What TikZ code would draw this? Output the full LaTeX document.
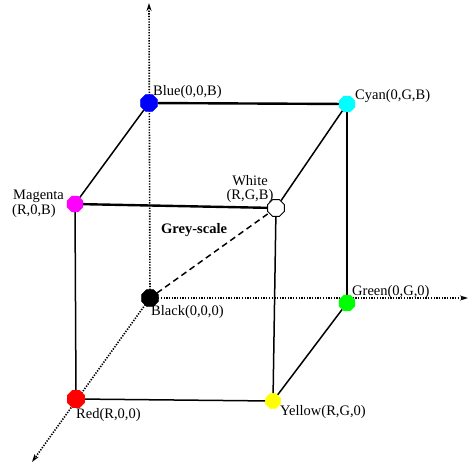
\documentclass[tikz,border=0pt]{standalone}
\usepackage{fontspec}
\setmainfont{Liberation Serif}
\usetikzlibrary{shapes.geometric,arrows.meta,backgrounds}
\definecolor{vblue}{RGB}{0,0,255}
\definecolor{vcyan}{RGB}{0,255,255}
\definecolor{vmagenta}{RGB}{255,0,255}
\definecolor{vgreen}{RGB}{0,255,0}
\definecolor{vred}{RGB}{255,0,0}
\definecolor{vyellow}{RGB}{255,255,0}
\begin{document}
\begin{tikzpicture}[x=1pt,y=-1pt,
  vtx/.style={regular polygon,regular polygon sides=8,minimum size=18pt,inner sep=0pt,draw=#1,fill=#1},
  lbl/.style={font=\fontsize{14.5}{16}\selectfont,inner sep=0pt,anchor=base west},
  thickedge/.style={line width=2.4pt},
  edge/.style={line width=1.5pt},
  axisline/.style={line width=1.6pt,dash pattern=on 1.3pt off 1.4pt,-{Stealth[length=8pt,width=5pt]}},
  greyline/.style={line width=1.5pt,dash pattern=on 6pt off 4pt}]
\useasboundingbox (0,0) rectangle (468,463);
% vertices
\node[vtx=vblue] (B) at (149,103) {};
\node[vtx=vcyan,minimum size=17pt] (C) at (347,104) {};
\node[vtx=vmagenta,minimum size=17pt] (M) at (75,204) {};
\node[regular polygon,regular polygon sides=8,minimum size=18pt,inner sep=0pt,draw=black,fill=white,line width=1pt] (W) at (276,208) {};
\node[vtx=black] (K) at (150,298) {};
\node[vtx=vgreen,minimum size=17pt] (G) at (347,303) {};
\node[vtx=vred,minimum size=19pt] (R) at (76,399) {};
\node[vtx=vyellow,minimum size=16pt] (Y) at (273,401) {};
% axis ends
\coordinate (top) at (149,3);
\coordinate (right) at (468,298);
\coordinate (diag) at (32,462);
% labels
\node[lbl] (lB) at (153,95) {Blue(0,0,B)};
\node[lbl] (lC) at (355,99.5) {Cyan(0,G,B)};
\node[lbl] (lM1) at (13,199) {Magenta};
\node[lbl] (lM2) at (12,214) {(R,0,B)};
\node[lbl,anchor=base] (lW1) at (250,185) {White};
\node[lbl,anchor=base] (lW2) at (250,199) {(R,G,B)};
\node[lbl,font=\fontsize{14.5}{16}\selectfont\bfseries] (lGS) at (161,233) {Grey-scale};
\node[lbl] (lK) at (151,315) {Black(0,0,0)};
\node[lbl] (lG) at (352,295) {Green(0,G,0)};
\node[lbl] (lR) at (76,418) {Red(R,0,0)};
\node[lbl] (lY) at (280,415) {Yellow(R,G,0)};
\begin{pgfonlayer}{background}
  \draw[axisline] (K.center) -- (top);
  \draw[axisline] (K.center) -- (right);
  \draw[axisline] (K.center) -- (diag);
  \draw[greyline] (K) -- (W);
  \draw[thickedge] (B) -- (C);
  \draw[thickedge] (M) -- (W);
  \draw[edge] (B) -- (M);
  \draw[edge] (C) -- (W);
  \draw[edge] (C) -- (G);
  \draw[edge] (G) -- (Y);
  \draw[edge] (W) -- (Y);
  \draw[edge] (M) -- (R);
  \draw[edge] (R) -- (Y);
\end{pgfonlayer}
\end{tikzpicture}
\end{document}
